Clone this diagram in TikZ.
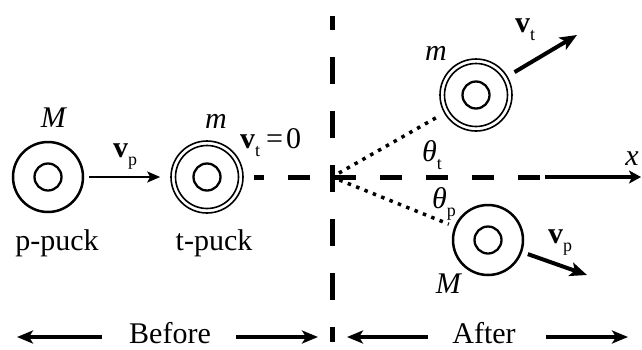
\documentclass[tikz,border=0pt]{standalone}
\usepackage{fontspec}
\setmainfont{Liberation Serif}
\usetikzlibrary{arrows.meta,positioning}
\newcommand{\lowsub}[1]{\raisebox{-8pt}{\fontsize{18}{18}\selectfont #1}}
\tikzset{puck/.style={circle, draw, line width=2.5pt, minimum size=70pt, inner sep=0pt, path picture={\draw[line width=2.3pt] (path picture bounding box.center) circle[radius=13.5pt];}}, tpuck/.style={circle, draw, line width=1.6pt, minimum size=72pt, inner sep=0pt, path picture={\draw[line width=2.3pt] (path picture bounding box.center) circle[radius=13.5pt]; \draw[line width=1.6pt] (path picture bounding box.center) circle[radius=31.5pt];}}, lab/.style={font=\fontsize{30}{36}\selectfont, inner sep=0pt}, push/.style={-{Stealth[length=13pt,width=11pt,inset=3pt]}, line width=2pt}, vel/.style={-{Stealth[length=17pt,width=14pt,inset=4pt]}, line width=4pt}, spanarrow/.style={-{Stealth[length=16pt,width=13pt,inset=4pt]}, line width=3.5pt}, divider/.style={line width=5pt, dash pattern=on 27pt off 27pt, dash phase=13pt}, trail/.style={line width=5pt, dash pattern=on 22pt off 24pt, dash phase=12pt}, guide/.style={line width=3.5pt, dash pattern=on 3.5pt off 5.5pt}, xaxis/.style={-{Stealth[length=12pt,width=13pt,inset=3pt]}, line width=3.5pt}}

\begin{document}
\begin{tikzpicture}[x=1pt, y=-1pt]
\useasboundingbox (0,0) rectangle (642,349);
\node[puck] (pp) at (48,177) {}; \node[tpuck] (tp) at (207,177) {};
\node[tpuck] (tq) at (476,95) {}; \node[puck] (pq) at (488,240) {};
\coordinate (top) at (332,16); \coordinate (bot) at (332,342); \coordinate (o) at (332,177);
\coordinate (xb) at (540,177); \coordinate (xa) at (545,177); \coordinate (xe) at (641,177);
\coordinate (vtend) at (577,35); \coordinate (vqend) at (587,275);
\coordinate (lft) at (17,337); \coordinate (sep) at (332,337); \coordinate (rgt) at (628,337);
\node[lab, anchor=base] (pM) at (54,127) {\textit{M}}; \node[lab, anchor=base] (tm) at (216,128) {\textit{m}};
\node[lab, anchor=base] (pname) at (57,250) {p-puck}; \node[lab, anchor=base] (tname) at (214,250) {t-puck};
\node[lab, anchor=base west] (vp) at (113,157) {\textbf{v}\lowsub{p}};
\node[lab, anchor=base west] (vt0) at (240,148) {\textbf{v}\lowsub{t}\hspace{6pt}=\hspace{3pt}0};
\node[lab, anchor=base] (qm) at (436,60) {\textit{m}}; \node[lab, anchor=base west] (vt) at (515,32) {\textbf{v}\lowsub{t}};
\node[lab, anchor=base west] (tht) at (422,161) {\textit{θ}\lowsub{t}}; \node[lab, anchor=base west] (thp) at (432,208) {\textit{θ}\lowsub{p}};
\node[lab, anchor=base] (qM) at (449,293) {\textit{M}}; \node[lab, anchor=base west] (vq) at (548,243) {\textbf{v}\lowsub{p}};
\node[lab, anchor=base] (xl) at (632,165) {\textit{x}};
\node[lab, anchor=base] (before) at (170,343) {Before}; \node[lab, anchor=base] (after) at (484,343) {After};
\draw[divider] (top) -- (bot);
\draw[trail, shorten <=10pt] (tp.east) -- (xb); \draw[xaxis] (xa) -- (xe);
\draw[guide, shorten <=8pt, shorten >=9pt] (o) -- (tq); \draw[guide, shorten <=8pt, shorten >=6pt] (o) -- (pq);
\draw[push, shorten <=5pt, shorten >=10pt] (pp) -- (tp);
\draw[vel, shorten <=8pt] (tq) -- (vtend); \draw[vel, shorten <=6pt] (pq) -- (vqend);
\draw[spanarrow, shorten <=27pt] (before.west |- lft) -- (lft); \draw[spanarrow, shorten <=25pt, shorten >=14pt] (before.east |- sep) -- (sep);
\draw[spanarrow, shorten <=24pt, shorten >=15pt] (after.west |- sep) -- (sep); \draw[spanarrow, shorten <=30pt] (after.east |- rgt) -- (rgt);
\end{tikzpicture}
\end{document}
